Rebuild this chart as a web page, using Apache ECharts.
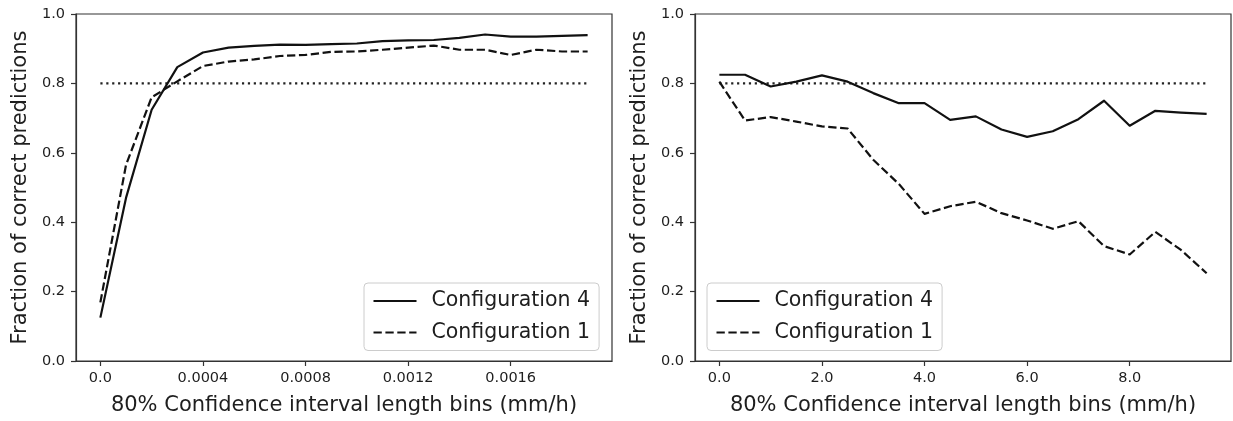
<!DOCTYPE html>
<html>
<head>
<meta charset="utf-8">
<script src="https://cdn.jsdelivr.net/npm/echarts@6/dist/echarts.min.js"></script>
<style>
  html, body { margin: 0; padding: 0; background: #fff; }
  #chart { width: 1233px; height: 421px; }
</style>
</head>
<body>
<div id="chart"></div>
<script>
// ---- Data ----
const leftX = [0, 0.0001, 0.0002, 0.0003, 0.0004, 0.0005, 0.0006, 0.0007, 0.0008, 0.0009,
               0.0010, 0.0011, 0.0012, 0.0013, 0.0014, 0.0015, 0.0016, 0.0017, 0.0018, 0.0019];
const leftConfig4 = [0.125, 0.47, 0.724, 0.847, 0.889, 0.903, 0.908, 0.912, 0.911, 0.913,
                     0.915, 0.922, 0.924, 0.925, 0.931, 0.941, 0.935, 0.935, 0.937, 0.939];
const leftConfig1 = [0.169, 0.565, 0.76, 0.806, 0.85, 0.863, 0.869, 0.879, 0.882, 0.891,
                     0.892, 0.897, 0.903, 0.909, 0.897, 0.897, 0.882, 0.897, 0.892, 0.892];

const rightX = [0, 0.5, 1.0, 1.5, 2.0, 2.5, 3.0, 3.5, 4.0, 4.5,
                5.0, 5.5, 6.0, 6.5, 7.0, 7.5, 8.0, 8.5, 9.0, 9.5];
const rightConfig4 = [0.825, 0.825, 0.791, 0.805, 0.823, 0.805, 0.772, 0.743, 0.743, 0.695,
                      0.705, 0.667, 0.646, 0.662, 0.697, 0.75, 0.678, 0.721, 0.716, 0.712];
const rightConfig1 = [0.805, 0.693, 0.703, 0.69, 0.676, 0.67, 0.58, 0.51, 0.424, 0.446,
                      0.459, 0.426, 0.405, 0.381, 0.403, 0.331, 0.307, 0.372, 0.32, 0.253];

const threshold = 0.8;

const leftTickValues = [0, 0.0004, 0.0008, 0.0012, 0.0016];
const leftTickLabels = ['0.0', '0.0004', '0.0008', '0.0012', '0.0016'];
const rightTickValues = [0, 2, 4, 6, 8];
const rightTickLabels = ['0.0', '2.0', '4.0', '6.0', '8.0'];
const yTickLabels = ['0.0', '0.2', '0.4', '0.6', '0.8', '1.0'];

const xAxisTitle = '80% Confidence interval length bins (mm/h)';
const yAxisTitle = 'Fraction of correct predictions';
const names = ['Configuration 4', 'Configuration 1'];

// ---- Styling ----
const FONT = 'DejaVu Sans';
const TXT = '#1e1e1e';
const SPINE = '#333';
const LINE = '#111';

function pairs(xs, ys) { return xs.map((x, i) => [x, ys[i]]); }
function labelFor(values, labels) {
  return v => {
    for (let i = 0; i < values.length; i++) if (Math.abs(values[i] - v) < 1e-12) return labels[i];
    return '';
  };
}

function xAxisFor(gridIndex, min, max, tv, tl) {
  return {
    type: 'value', gridIndex, min, max,
    name: xAxisTitle, nameLocation: 'middle', nameGap: 34,
    nameTextStyle: { fontFamily: FONT, fontSize: 21, color: TXT },
    axisLine: { show: true, onZero: false, lineStyle: { color: SPINE, width: 1.2 } },
    axisTick: { show: true, length: 5, customValues: tv, lineStyle: { color: SPINE, width: 1.2 } },
    axisLabel: { show: true, customValues: tv, formatter: labelFor(tv, tl), margin: 10,
                 fontFamily: FONT, fontSize: 14.5, color: TXT },
    splitLine: { show: false }
  };
}
function yAxisFor(gridIndex) {
  return {
    type: 'value', gridIndex, min: 0, max: 1, interval: 0.2,
    name: yAxisTitle, nameLocation: 'middle', nameGap: 45,
    nameTextStyle: { fontFamily: FONT, fontSize: 21, color: TXT },
    axisLine: { show: true, onZero: false, lineStyle: { color: SPINE, width: 1.2 } },
    axisTick: { show: true, length: 5, lineStyle: { color: SPINE, width: 1.2 } },
    axisLabel: { show: true, margin: 11, fontFamily: FONT, fontSize: 14.5, color: TXT,
                 formatter: v => yTickLabels[Math.round(v / 0.2)] },
    splitLine: { show: false }
  };
}
function lineSeries(name, idx, data, dashed) {
  return {
    name, type: 'line', xAxisIndex: idx, yAxisIndex: idx, data,
    symbol: 'none', showSymbol: false, silent: true,
    lineStyle: { color: LINE, width: 2.2, type: dashed ? [8.3, 3.6] : 'solid', cap: 'butt', join: 'round' },
    itemStyle: { color: LINE }
  };
}
function dottedSeries(idx, xs) {
  return {
    name: 'threshold', type: 'line', xAxisIndex: idx, yAxisIndex: idx,
    data: [[xs[0], threshold], [xs[xs.length - 1], threshold]],
    symbol: 'none', silent: true,
    lineStyle: { color: '#222', width: 2.2, type: [2.2, 3.7], cap: 'butt' }
  };
}
function legendFor(left) {
  return {
    data: names, orient: 'vertical', left, top: 283,
    itemWidth: 43, itemHeight: 21, itemGap: 10.5,
    padding: [7.5, 9, 7.5, 8.5],
    backgroundColor: 'rgba(255,255,255,0.8)',
    borderColor: '#cccccc', borderWidth: 1, borderRadius: 4,
    selectedMode: false,
    itemStyle: { opacity: 0, color: 'rgba(0,0,0,0)', borderWidth: 0 },
    textStyle: { fontFamily: FONT, fontSize: 20.5, color: TXT, lineHeight: 21, padding: [0, 0, 0, 10] }
  };
}

const option = {
  animation: false,
  backgroundColor: '#fff',
  grid: [
    { left: 76, top: 14, width: 536, height: 348, show: true, borderColor: SPINE, borderWidth: 1.2, backgroundColor: 'transparent' },
    { left: 695, top: 14, width: 536, height: 348, show: true, borderColor: SPINE, borderWidth: 1.2, backgroundColor: 'transparent' }
  ],
  xAxis: [
    xAxisFor(0, -0.000095, 0.001995, leftTickValues, leftTickLabels),
    xAxisFor(1, -0.475, 9.975, rightTickValues, rightTickLabels)
  ],
  yAxis: [yAxisFor(0), yAxisFor(1)],
  legend: [legendFor(364), legendFor(707)],
  series: [
    dottedSeries(0, leftX),
    lineSeries(names[0], 0, pairs(leftX, leftConfig4), false),
    lineSeries(names[1], 0, pairs(leftX, leftConfig1), true),
    dottedSeries(1, rightX),
    lineSeries(names[0], 1, pairs(rightX, rightConfig4), false),
    lineSeries(names[1], 1, pairs(rightX, rightConfig1), true)
  ]
};

const chart = echarts.init(document.getElementById('chart'), null, { renderer: 'canvas' });
chart.setOption(option);
</script>
</body>
</html>
